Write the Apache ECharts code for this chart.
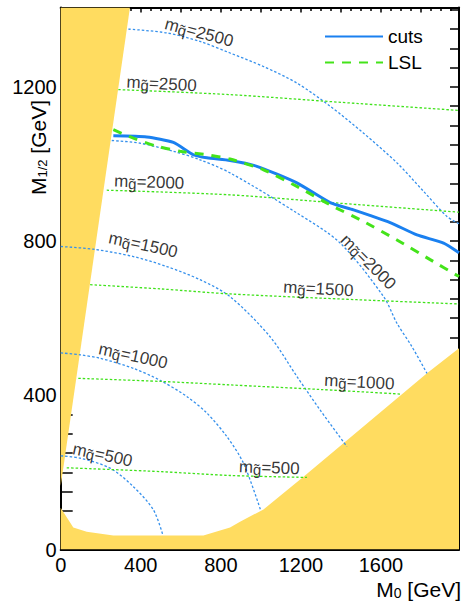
<!DOCTYPE html>
<html>
<head>
<meta charset="utf-8">
<script src="https://cdn.jsdelivr.net/npm/echarts@6/dist/echarts.min.js"></script>
<style>
html,body{margin:0;padding:0;background:#fff;}
#c{width:462px;height:604px;}
</style>
</head>
<body>
<div id="c"></div>
<script>
// ---- axis ticks ----
const xTickLabels = [0, 400, 800, 1200, 1600];
const yTickLabels = [0, 400, 800, 1200];

// ---- excluded regions (boundaries, GeV) ----
const wedgeEdge = [[0, 165], [346, 1406]];
const bottomEdge = [[0, 108], [63, 57], [130, 46], [263, 36], [713, 36], [846, 57], [896, 72], [1013, 104], [1213, 189], [1830, 457], [1990, 522]];

// ---- squark mass contours ----
const sq500 = [[0, 243], [97, 237], [247, 211], [363, 163], [463, 103], [510, 38]];
const sq1000 = [[0, 510], [97, 505], [197, 496], [363, 470], [496, 439], [630, 397], [730, 354], [830, 293], [913, 224], [1000, 100]];
const sq1500 = [[0, 786], [163, 779], [363, 760], [530, 734], [696, 700], [846, 656], [1046, 552], [1180, 449], [1296, 362], [1430, 267]];
const sq2000 = [[255, 1061], [396, 1054], [563, 1033], [696, 1011], [846, 977], [1180, 873], [1396, 795], [1613, 656], [1680, 587], [1755, 526], [1830, 457]];
const sq2500 = [[338, 1350], [530, 1340], [696, 1318], [846, 1288], [1013, 1253], [1180, 1210], [1346, 1150], [1513, 1080], [1680, 1003], [1813, 929], [1930, 864], [1990, 845]];

// ---- gluino mass contours ----
const gl500 = [[30, 212], [500, 202], [846, 192], [1230, 187]];
const gl1000 = [[88, 444], [500, 436], [846, 427], [1300, 415], [1705, 403]];
const gl1500 = [[147, 687], [500, 676], [846, 663], [1480, 648], [1990, 637]];
const gl2000 = [[230, 932], [846, 920], [1400, 898], [1990, 875]];
const gl2500 = [[288, 1193], [846, 1180], [1400, 1160], [1990, 1139]];

// ---- reach curves ----
const cuts = [[263, 1073], [430, 1070], [563, 1056], [663, 1024], [730, 1016], [846, 1009], [980, 994], [1180, 951], [1346, 900], [1463, 881], [1646, 848], [1780, 816], [1913, 795], [1990, 770]];
const lsl = [[263, 1089], [363, 1067], [480, 1046], [596, 1033], [730, 1024], [846, 1013], [1013, 985], [1180, 942], [1346, 894], [1513, 851], [1680, 803], [1846, 752], [1990, 708]];

// ---- contour labels (GeV coords) ----
const labelX = [691, 504, 442, 412, 362, 209, 1042, 1492, 1287, 1537];
const labelY = [1341, 1208, 953, 790, 502, 245, 212, 434, 676, 746];
const labelKind = ['q', 'g', 'g', 'q', 'q', 'q', 'g', 'g', 'g', 'q'];
const labelMass = [2500, 2500, 2000, 1500, 1000, 500, 500, 1000, 1500, 2000];
const labelAngle = [-15, -3, -2, -12, -12, -12, -2, -3, -3, -45];

const YELLOW = '#FFDC60';
const BLUE_DOT = '#3590EC';
const GREEN_DOT = '#3FE21A';
const FONT = 'Liberation Sans, Arial, sans-serif';

const chart = echarts.init(document.getElementById('c'), null, {renderer: 'svg'});

function contour(data, color) {
  return {
    type: 'line', data: data, symbol: 'none', smooth: 0.3, silent: true, z: 3,
    lineStyle: {color: color, width: 1.3, type: [2.5, 2]}
  };
}

const labelData = labelX.map((x, i) => ({
  value: [x, labelY[i]],
  label: {
    rotate: labelAngle[i],
    formatter: '{m|m}{s|' + labelKind[i] + '\u0303}{m|=' + labelMass[i] + '}'
  }
}));

const option = {
  animation: false,
  grid: {left: 60.7, right: 3, top: 7.5, bottom: 54.5, show: false},
  legend: {
    data: ['cuts', 'LSL'],
    orient: 'vertical',
    left: 319, top: 22,
    itemWidth: 58, itemHeight: 14, itemGap: 7,
    itemStyle: {opacity: 0, borderWidth: 0},
    textStyle: {fontFamily: FONT, fontSize: 19, color: '#000', padding: [0, 0, 0, 0]},
    selectedMode: false
  },
  xAxis: [{
    type: 'value', min: 0, max: 1990, interval: 200, position: 'bottom',
    axisLine: {show: true, onZero: false, lineStyle: {color: '#000', width: 2}},
    axisTick: {show: true, inside: true, length: 6, lineStyle: {color: '#000', width: 1.5}},
    minorTick: {show: true, splitNumber: 4, length: 4, lineStyle: {color: '#000', width: 1.5}},
    splitLine: {show: false},
    axisLabel: {
      showMaxLabel: false, margin: 5, color: '#000', fontFamily: FONT, fontSize: 20,
      formatter: v => (xTickLabels.indexOf(v) >= 0 ? String(v) : '')
    }
  }, {
    type: 'value', min: 0, max: 1990, interval: 200, position: 'top',
    axisLine: {show: true, onZero: false, lineStyle: {color: '#000', width: 2}},
    axisTick: {show: true, inside: true, length: 5, lineStyle: {color: '#000', width: 1.5}},
    minorTick: {show: true, splitNumber: 4, length: 3.5, lineStyle: {color: '#000', width: 1.5}},
    splitLine: {show: false}, axisLabel: {show: false}
  }],
  yAxis: [{
    type: 'value', min: 0, max: 1406, interval: 400, position: 'left',
    axisLine: {show: true, onZero: false, lineStyle: {color: '#000', width: 2}},
    axisTick: {show: true, inside: true, length: 12, lineStyle: {color: '#000', width: 1.5}},
    minorTick: {show: true, splitNumber: 8, length: 12, lineStyle: {color: '#000', width: 1.5}},
    splitLine: {show: false},
    axisLabel: {
      showMaxLabel: false, margin: 4, color: '#000', fontFamily: FONT, fontSize: 20,
      formatter: v => (yTickLabels.indexOf(v) >= 0 ? String(v) : '')
    }
  }, {
    type: 'value', min: 0, max: 1406, interval: 400, position: 'right',
    axisLine: {show: true, onZero: false, lineStyle: {color: '#000', width: 2}},
    axisTick: {show: true, inside: true, length: 9, lineStyle: {color: '#000', width: 1.5}},
    minorTick: {show: true, splitNumber: 8, length: 9, lineStyle: {color: '#000', width: 1.5}},
    splitLine: {show: false}, axisLabel: {show: false}
  }],
  graphic: [{
    type: 'text', left: 28, top: 100, rotation: Math.PI / 2, z: 10,
    style: {
      text: '{a|M}{b|1/2}{a| [GeV]}', fill: '#000',
      rich: {
        a: {fontFamily: FONT, fontSize: 21, fill: '#000'},
        b: {fontFamily: FONT, fontSize: 13, fill: '#000', padding: [7, 0, 0, 0]}
      }
    }
  }, {
    type: 'text', right: 1, top: 579, z: 10,
    style: {
      text: '{a|M}{b|0}{a| [GeV]}', fill: '#000',
      rich: {
        a: {fontFamily: FONT, fontSize: 21, fill: '#000'},
        b: {fontFamily: FONT, fontSize: 14, fill: '#000', padding: [6, 0, 0, 0]}
      }
    }
  }],
  series: [
    {type: 'line', data: bottomEdge, symbol: 'none', silent: true, z: 1,
     lineStyle: {width: 0}, areaStyle: {color: YELLOW, opacity: 1, origin: 'start'}},
    {type: 'line', data: wedgeEdge, symbol: 'none', silent: true, z: 1,
     lineStyle: {width: 0}, areaStyle: {color: YELLOW, opacity: 1, origin: 'end'}},
    contour(sq500, BLUE_DOT), contour(sq1000, BLUE_DOT), contour(sq1500, BLUE_DOT),
    contour(sq2000, BLUE_DOT), contour(sq2500, BLUE_DOT),
    contour(gl500, GREEN_DOT), contour(gl1000, GREEN_DOT), contour(gl1500, GREEN_DOT),
    contour(gl2000, GREEN_DOT), contour(gl2500, GREEN_DOT),
    {name: 'cuts', type: 'line', data: cuts, symbol: 'none', smooth: 0.2, z: 5,
     color: '#1A80F0', lineStyle: {color: '#1A80F0', width: 3}},
    {name: 'LSL', type: 'line', data: lsl, symbol: 'none', smooth: 0.2, z: 5,
     color: '#44E31A', lineStyle: {color: '#44E31A', width: 3, type: [9, 8]}},
    {type: 'scatter', data: labelData, symbolSize: 0, silent: true, z: 6,
     label: {
       show: true, position: 'inside', align: 'center', verticalAlign: 'middle',
       rich: {
         m: {fontFamily: FONT, fontSize: 17, color: '#000'},
         s: {fontFamily: FONT, fontSize: 15, color: '#000', padding: [4, 0, 0, 0]}
       }
     }}
  ]
};
chart.setOption(option);
</script>
</body>
</html>
